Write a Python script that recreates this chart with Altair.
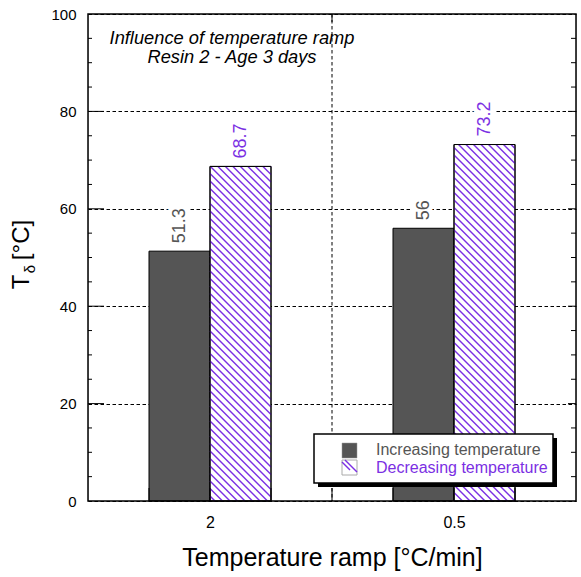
import altair as alt
import pandas as pd
import numpy as np

# ---------------- data ----------------
ramps = ["2", "0.5"]
increasing = [51.3, 56.0]
decreasing = [68.7, 73.2]
series = ["Increasing temperature", "Decreasing temperature"]
y_ticks = [0, 20, 40, 60, 80, 100]
minor_ticks = [v for v in range(5, 100, 5) if v % 20 != 0]
major_ticks = [20, 40, 60, 80]
title_lines = ["Influence of temperature ramp", "Resin 2 - Age 3 days"]
x_title = "Temperature ramp [°C/min]"

# ---------------- layout / style ----------------
W, H = 488, 487
XMAX, YMAX = 8, 100
GRAY = "#555555"
PURPLE = "#7B2FE3"
FONT = "Liberation Sans"

rows = []
for i, r in enumerate(ramps):
    c = 2 + 4 * i
    rows.append(dict(ramp=r, series=series[0], x0=c - 1, x1=c, value=increasing[i]))
    rows.append(dict(ramp=r, series=series[1], x0=c, x1=c + 1, value=decreasing[i]))
bars = pd.DataFrame(rows)
bars["xm"] = (bars.x0 + bars.x1) / 2
bars["label"] = bars["value"].map(lambda v: f"{v:g}")

# hatch lines derived from the hatched bars
kx, ky = W / XMAX, H / YMAX
spacing = 7.5
hatch = []
for _, b in bars[bars.series == series[1]].iterrows():
    pa, pb = b.x0 * kx, b.x1 * kx
    st, sb = H - b.value * ky, H
    c = np.floor((pa - sb) / spacing) * spacing
    while c <= pb - st:
        lo = max(st, pa - c)
        hi = min(sb, pb - c)
        if hi - lo > 0.5:
            hatch.append(dict(x=(lo + c) / kx, y=(H - lo) / ky,
                              x2=(hi + c) / kx, y2=(H - hi) / ky))
        c += spacing
hatch = pd.DataFrame(hatch)

centers = [2 + 4 * i for i in range(len(ramps))]
label_expr = "'" + ramps[-1] + "'"
for cval, r in zip(centers[:-1][::-1], ramps[:-1][::-1]):
    label_expr = f"datum.value == {cval} ? '{r}' : " + label_expr

xscale = alt.Scale(domain=[0, XMAX], nice=False, zero=False)
yscale = alt.Scale(domain=[0, YMAX], nice=False, zero=False)
X_AXIS = alt.Axis(values=centers, labelExpr=label_expr, title=x_title, domain=False,
                  ticks=False, grid=False, labelFontSize=16, labelPadding=13,
                  labelColor="black", labelFont=FONT, titleFont=FONT, titleFontSize=25,
                  titleFontWeight="normal", titleColor="black", titlePadding=15)
Y_AXIS = alt.Axis(values=y_ticks, title=None, domain=False, ticks=False, grid=True,
                  gridDash=[3.5, 2.5], gridColor="black", gridOpacity=1, gridWidth=1,
                  labelFontSize=15, labelPadding=12, labelColor="black", labelFont=FONT)

base = alt.Chart(bars)

vgrid = alt.Chart(pd.DataFrame({"x": [centers[0] + 2]})).mark_rule(
    color="black", strokeDash=[3.5, 2.5], strokeWidth=1
).encode(x=alt.X("x:Q", scale=xscale, axis=X_AXIS), y=alt.value(0), y2=alt.value(H))

inc_bars = base.transform_filter(alt.datum.series == series[0]).mark_rect(
    fill=GRAY, stroke="black", strokeWidth=1
).encode(
    x=alt.X("x0:Q", scale=xscale, axis=X_AXIS), x2="x1:Q",
    y=alt.Y("value:Q", scale=yscale, axis=Y_AXIS), y2=alt.datum(0),
)
dec_bars = base.transform_filter(alt.datum.series == series[1]).mark_rect(
    fill="white", stroke="black", strokeWidth=1
).encode(
    x=alt.X("x0:Q", scale=xscale, axis=X_AXIS), x2="x1:Q",
    y=alt.Y("value:Q", scale=yscale, axis=Y_AXIS), y2=alt.datum(0),
)
hatch_layer = alt.Chart(hatch).mark_rule(color=PURPLE, strokeWidth=1.4).encode(
    x=alt.X("x:Q", scale=xscale, axis=X_AXIS), x2="x2:Q",
    y=alt.Y("y:Q", scale=yscale, axis=Y_AXIS), y2="y2:Q",
)
dec_outline = base.transform_filter(alt.datum.series == series[1]).mark_rect(
    fill=None, stroke="black", strokeWidth=1
).encode(
    x=alt.X("x0:Q", scale=xscale, axis=X_AXIS), x2="x1:Q",
    y=alt.Y("value:Q", scale=yscale, axis=Y_AXIS), y2=alt.datum(0),
)

label_halo = base.mark_text(angle=270, align="left", baseline="middle", dx=8,
                            fontSize=18, font=FONT, fill="white", stroke="white",
                            strokeWidth=9).encode(
    x=alt.X("xm:Q", scale=xscale, axis=X_AXIS),
    y=alt.Y("value:Q", scale=yscale, axis=Y_AXIS),
    text="label:N",
)
labels = base.mark_text(angle=270, align="left", baseline="middle", dx=8,
                        fontSize=18, font=FONT).encode(
    x=alt.X("xm:Q", scale=xscale, axis=X_AXIS),
    y=alt.Y("value:Q", scale=yscale, axis=Y_AXIS),
    text="label:N",
    color=alt.Color("series:N", scale=alt.Scale(domain=series, range=[GRAY, PURPLE]), legend=None),
)

# inward ticks
def tick_layer(vals, x0, x1):
    return alt.Chart(pd.DataFrame({"v": vals})).mark_rule(color="black", strokeWidth=1).encode(
        y=alt.Y("v:Q", scale=yscale, axis=Y_AXIS), x=alt.value(x0), x2=alt.value(x1))

ticks = [tick_layer(minor_ticks, 0, 4), tick_layer(minor_ticks, W - 5, W),
         tick_layer(major_ticks, 0, 16), tick_layer(major_ticks, W - 8, W)]
xticks = alt.Chart(pd.DataFrame({"v": list(range(1, XMAX))})).mark_rule(
    color="black", strokeWidth=1).encode(
    x=alt.X("v:Q", scale=xscale, axis=X_AXIS), y=alt.value(H - 13), y2=alt.value(H))
top_tick = alt.Chart(pd.DataFrame({"v": [centers[0] + 2]})).mark_rule(
    color="black", strokeWidth=1).encode(
    x=alt.X("v:Q", scale=xscale, axis=X_AXIS), y=alt.value(0), y2=alt.value(8))

frame = alt.Chart(pd.DataFrame({"a": [0]})).mark_rect(
    fill=None, stroke="black", strokeWidth=1.5).encode(
    x=alt.value(0), x2=alt.value(W), y=alt.value(0), y2=alt.value(H))

# in-plot title
title_layers = [
    alt.Chart(pd.DataFrame({"t": [t]})).mark_text(
        fontSize=18.3, font=FONT, fontStyle="italic", align="center", baseline="middle",
        color="black").encode(text="t:N", x=alt.value(144), y=alt.value(25 + 19 * k))
    for k, t in enumerate(title_lines)
]

# y title: T with subscript delta
def txt(t, x, y, size, **kw):
    return alt.Chart(pd.DataFrame({"t": [t]})).mark_text(
        fontSize=size, font=FONT, angle=270, color="black", **kw
    ).encode(text="t:N", x=alt.value(x), y=alt.value(y))

ytitle = [
    txt("T", -59, 268, 24, align="center", baseline="alphabetic"),
    txt("δ", -53, 255, 15, align="center", baseline="alphabetic"),
    txt("[°C]", -59, 226, 24, align="center", baseline="alphabetic"),
]

# legend
lx0, ly0 = 226, 420
legend = [
    alt.Chart(pd.DataFrame({"a": [0]})).mark_rect(fill="black").encode(
        x=alt.value(lx0 + 4), x2=alt.value(lx0 + 243), y=alt.value(ly0 + 4), y2=alt.value(ly0 + 53)),
    alt.Chart(pd.DataFrame({"a": [0]})).mark_rect(fill="white", stroke="black", strokeWidth=1.5).encode(
        x=alt.value(lx0), x2=alt.value(lx0 + 239), y=alt.value(ly0), y2=alt.value(ly0 + 49)),
    alt.Chart(pd.DataFrame({"a": [0]})).mark_rect(fill=GRAY, stroke="#999999", strokeWidth=0.5).encode(
        x=alt.value(lx0 + 28), x2=alt.value(lx0 + 43), y=alt.value(ly0 + 9), y2=alt.value(ly0 + 24)),
    alt.Chart(pd.DataFrame({"a": [0]})).mark_rect(fill="white", stroke="#aaaaaa", strokeWidth=1).encode(
        x=alt.value(lx0 + 28), x2=alt.value(lx0 + 43), y=alt.value(ly0 + 26), y2=alt.value(ly0 + 41)),
    alt.Chart(pd.DataFrame({"a": [0]})).mark_rule(color=PURPLE, strokeWidth=1.4).encode(
        x=alt.value(lx0 + 28), x2=alt.value(lx0 + 36), y=alt.value(ly0 + 28), y2=alt.value(ly0 + 36)),
    alt.Chart(pd.DataFrame({"a": [0]})).mark_rule(color=PURPLE, strokeWidth=1.4).encode(
        x=alt.value(lx0 + 31), x2=alt.value(lx0 + 43), y=alt.value(ly0 + 26), y2=alt.value(ly0 + 38)),
    alt.Chart(pd.DataFrame({"t": [series[0]]})).mark_text(
        fontSize=16, font=FONT, align="left", baseline="middle", color=GRAY).encode(
        text="t:N", x=alt.value(lx0 + 62), y=alt.value(ly0 + 16)),
    alt.Chart(pd.DataFrame({"t": [series[1]]})).mark_text(
        fontSize=16, font=FONT, align="left", baseline="middle", color=PURPLE).encode(
        text="t:N", x=alt.value(lx0 + 62), y=alt.value(ly0 + 34)),
]

chart = alt.layer(
    vgrid, inc_bars, dec_bars, hatch_layer, dec_outline, label_halo, labels,
    *ticks, xticks, top_tick, frame, *title_layers, *ytitle, *legend,
).properties(
    width=W, height=H,
    padding={"left": 88, "top": 14, "right": 5, "bottom": 76},
    autosize=alt.AutoSizeParams(type="none"),
).configure_view(stroke=None).configure(background="white")

chart.save("out.html", embed_options={"renderer": "svg", "actions": False})
